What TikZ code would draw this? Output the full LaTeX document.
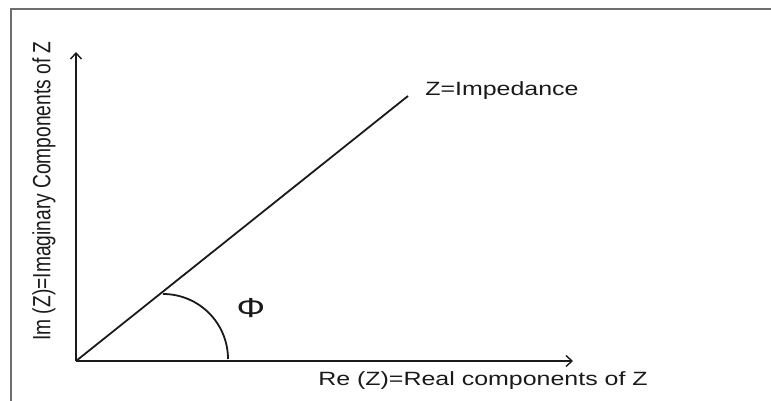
\documentclass[tikz,border=0pt]{standalone}
\usepackage{fontspec}
\setmainfont{Liberation Sans}
\usetikzlibrary{arrows.meta,positioning,calc}
\definecolor{frame}{HTML}{6E6E6E}
\definecolor{ink}{HTML}{1A1A1A}

\begin{document}
\begin{tikzpicture}[x=1pt,y=-1pt,font=\fontsize{19.2}{21}\selectfont,
  axis/.style={draw=ink,line width=1.8pt,-{Straight Barb[length=6pt,width=11pt,line width=1.4pt]}},
  vec/.style={draw=ink,line width=1.8pt},
  lbl/.style={inner sep=0pt,text=ink,xscale=1.3}]
\useasboundingbox (0,0) rectangle (771,401);
\draw[frame,line width=1.6pt] (11,401) -- (11,9) -- (771,9);
% axes and impedance vector
\coordinate (O) at (76,361);
\coordinate (xend) at (573,361);
\coordinate (yend) at (76,52);
\coordinate (zend) at (408,96);
\coordinate (arcstart) at (163,294);
\draw[axis] (O) -- (xend);
\draw[axis] (O) -- (yend);
\draw[vec] (O) -- (zend);
\draw[vec] (arcstart) arc[start angle=-90,end angle=0,radius=65];
% labels
\node[lbl,anchor=west] (imp) at (425,91) {Z=Impedance};
\node[lbl,font=\fontsize{27.5}{29}\selectfont] (phi) at (251,308) {Φ};
\node[lbl,anchor=west] (re) at (318,381) {Re (Z)=Real components of Z};
\node[lbl,rotate=90] (im) at (44,191) {Im (Z)=Imaginary Components of Z};
\end{tikzpicture}
\end{document}
